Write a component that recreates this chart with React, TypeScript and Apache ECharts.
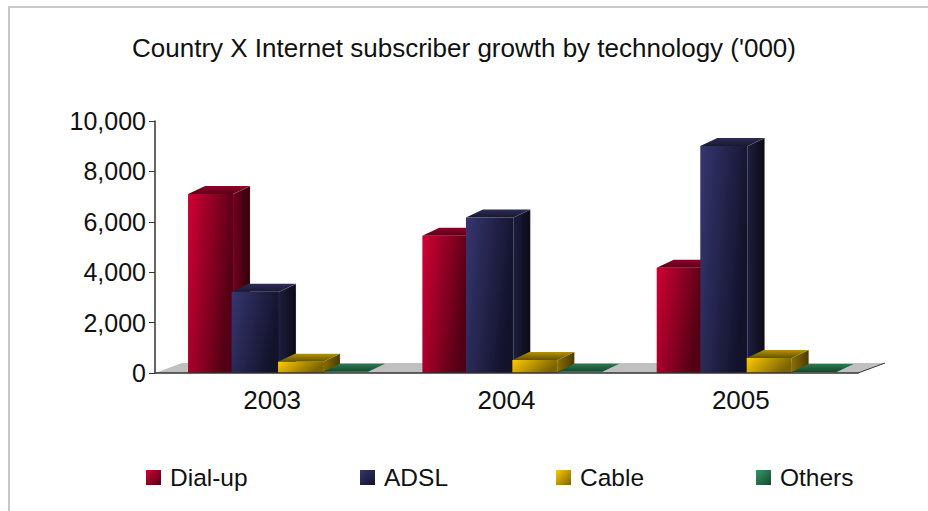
import React, { useEffect, useRef } from "react";
import * as echarts from "echarts";

const years = ["2003", "2004", "2005"];
const seriesNames = ["Dial-up", "ADSL", "Cable", "Others"];
const dialUp = [7100, 5450, 4180];
const adsl = [3220, 6170, 9010];
const cable = [450, 520, 600];
const others = [50, 50, 40];
const seriesValues = [dialUp, adsl, cable, others];
const yTicks = { min: 0, max: 10000, interval: 2000 };
const titleText = "Country X Internet subscriber growth by technology ('000)";

const FONT = "'Liberation Sans', Arial, sans-serif";
const INK = "#111";

// Shades for each column: front face corners, side face and top face
const palette = [
  { front: ["#D00034", "#520015"], side: ["#74001E", "#2E000C"], top: ["#92002A", "#5A0017"] },
  { front: ["#363670", "#12122A"], side: ["#1E1E3E", "#0A0A14"], top: ["#2C2C58", "#181832"] },
  { front: ["#FFCC00", "#7A6200"], side: ["#8A6E00", "#4A3B00"], top: ["#B89300", "#665200"] },
  { front: ["#339966", "#17462F"], side: ["#1A4D33", "#0D2619"], top: ["#2A7A52", "#14482E"] },
];

const sloped = (pair: string[], run: number) =>
  new echarts.graphic.LinearGradient(0, 0, 1, run, [
    { offset: 0, color: pair[0] },
    { offset: 1, color: pair[1] },
  ]);
const vertical = (pair: string[]) =>
  new echarts.graphic.LinearGradient(0, 0, 0, 1, [
    { offset: 0, color: pair[0] },
    { offset: 1, color: pair[1] },
  ]);
const horizontal = (pair: string[]) =>
  new echarts.graphic.LinearGradient(0, 0, 1, 0, [
    { offset: 0, color: pair[0] },
    { offset: 1, color: pair[1] },
  ]);

// Column layout as fractions of one category band
const BAR_STARTS = [0.141, 0.327, 0.525, 0.717];
const BAR_WIDTHS = [0.192, 0.202, 0.192, 0.192];
// Extrusion of the columns and of the floor, in pixels
const DEPTH_X = 17;
const DEPTH_Y = 8;
const FLOOR_X = 27;
const FLOOR_Y = 10;

const columnRenderer = (seriesIndex: number) => (_params: any, api: any) => {
  const shades = palette[seriesIndex];
  const [cx, topY] = api.coord([api.value(0), api.value(1)]);
  const [, baseY] = api.coord([api.value(0), 0]);
  const band = api.size([1, 0])[0];
  const left = cx - band / 2 + band * BAR_STARTS[seriesIndex];
  const right = left + band * BAR_WIDTHS[seriesIndex];
  const flat = seriesIndex === 3;
  const children: any[] = [];
  if (!flat) {
    children.push({
      type: "polygon",
      shape: {
        points: [
          [right, topY],
          [right + DEPTH_X, topY - DEPTH_Y],
          [right + DEPTH_X, baseY - DEPTH_Y],
          [right, baseY],
        ],
      },
      style: { fill: horizontal(shades.side) },
    });
    children.push({
      type: "line",
      shape: { x1: right, y1: topY, x2: right + DEPTH_X, y2: topY - DEPTH_Y },
      style: { stroke: "rgba(190,190,190,0.3)", lineWidth: 1 },
    });
    children.push({
      type: "line",
      shape: { x1: right + DEPTH_X, y1: topY - DEPTH_Y, x2: right + DEPTH_X, y2: baseY - DEPTH_Y },
      style: { stroke: "rgba(190,190,190,0.2)", lineWidth: 1 },
    });
  }
  children.push({
    type: "polygon",
    shape: {
      points: [
        [left, topY],
        [left + DEPTH_X, topY - DEPTH_Y],
        [right + DEPTH_X, topY - DEPTH_Y],
        [right, topY],
      ],
    },
    style: { fill: vertical(shades.top) },
  });
  if (!flat) {
    children.push({
      type: "rect",
      shape: { x: left, y: topY, width: right - left, height: baseY - topY },
      style: { fill: sloped(shades.front, 0.35) },
    });
  }
  return { type: "group", children };
};

// Grey floor slab with its receding right edge
const floorRenderer = (params: any, api: any) => {
  const sys = params.coordSys;
  const [, y] = api.coord([0, 0]);
  const x0 = sys.x;
  const x1 = sys.x + sys.width;
  return {
    type: "group",
    children: [
      {
        type: "polygon",
        shape: {
          points: [
            [x0, y],
            [x0 + FLOOR_X, y - FLOOR_Y],
            [x1 + FLOOR_X, y - FLOOR_Y],
            [x1, y],
          ],
        },
        style: { fill: "#C0C0C0" },
      },
      {
        type: "line",
        shape: { x1, y1: y, x2: x1 + FLOOR_X, y2: y - FLOOR_Y },
        style: { stroke: "#333", lineWidth: 1 },
      },
    ],
  };
};

const legendLefts = [146, 360, 556, 756];

export default function App() {
  const ref = useRef<HTMLDivElement>(null);

  useEffect(() => {
    const chart = echarts.init(ref.current!, undefined, { renderer: "svg" });
    chart.setOption({
      animation: false,
      backgroundColor: "#fff",
      title: {
        text: titleText,
        left: 459,
        top: 30,
        textAlign: "center",
        textStyle: { fontFamily: FONT, fontSize: 26, fontWeight: "normal", color: INK },
      },
      legend: seriesNames.map((name, i) => ({
        data: [{ name, itemStyle: { color: sloped(palette[i].front, 1) } }],
        left: legendLefts[i],
        top: 465,
        padding: 0,
        itemWidth: 15,
        itemHeight: 15,
        icon: "rect",
        selectedMode: false,
        textStyle: { fontFamily: FONT, fontSize: 24.5, color: INK, padding: [0, 0, 0, 4] },
      })),
      grid: { left: 155, right: 70, top: 121, bottom: 138 },
      xAxis: {
        type: "category",
        data: years,
        z: 5,
        axisLine: { lineStyle: { color: "#333", width: 1.5 } },
        axisTick: { length: 8, lineStyle: { color: "#333" }, alignWithLabel: false },
        axisLabel: { fontFamily: FONT, fontSize: 26, color: INK, margin: 14 },
      },
      yAxis: {
        type: "value",
        min: yTicks.min,
        max: yTicks.max,
        interval: yTicks.interval,
        splitLine: { show: false },
        axisLine: { show: true, lineStyle: { color: "#333", width: 1.5 } },
        axisTick: { show: true, length: 6, lineStyle: { color: "#333" } },
        axisLabel: {
          fontFamily: FONT,
          fontSize: 25,
          color: INK,
          margin: 9,
          formatter: (v: number) => v.toLocaleString("en-US"),
        },
      },
      series: [
        {
          type: "custom",
          name: "floor",
          silent: true,
          z: 1,
          renderItem: floorRenderer,
          data: [[0, 0]],
        },
        ...seriesNames.map((name, i) => ({
          type: "custom",
          name,
          z: 2,
          renderItem: columnRenderer(i),
          encode: { x: 0, y: 1 },
          data: seriesValues[i].map((v, c) => [c, v]),
        })),
      ],
      graphic: [
        {
          type: "line",
          silent: true,
          shape: { x1: 8, y1: 7, x2: 928, y2: 7 },
          style: { stroke: "#C8C8C8", lineWidth: 2 },
        },
        {
          type: "line",
          silent: true,
          shape: { x1: 9, y1: 7, x2: 9, y2: 511 },
          style: { stroke: "#C8C8C8", lineWidth: 2 },
        },
      ],
    });
    return () => chart.dispose();
  }, []);

  return (
    <div
      ref={ref}
      style={{ position: "absolute", left: 0, top: 0, width: 928, height: 511 }}
    />
  );
}
